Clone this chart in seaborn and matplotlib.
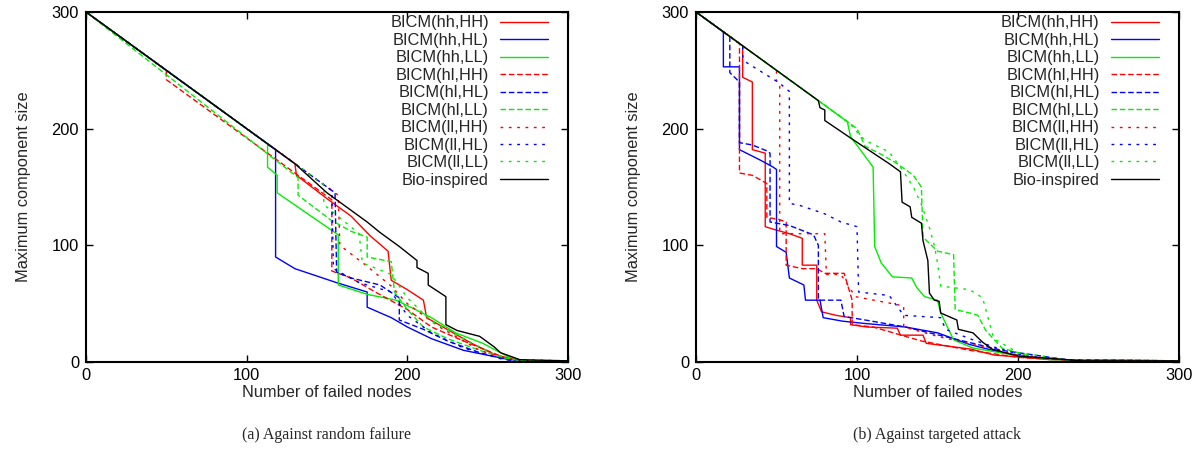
import matplotlib
matplotlib.use("Agg")
import matplotlib.pyplot as plt
import seaborn as sns
import pandas as pd

# %% Data (panel a: random failure, panel b: targeted attack)
labels = ["BICM(hh,HH)", "BICM(hh,HL)", "BICM(hh,LL)",
          "BICM(hl,HH)", "BICM(hl,HL)", "BICM(hl,LL)",
          "BICM(ll,HH)", "BICM(ll,HL)", "BICM(ll,LL)", "Bio-inspired"]

# panel a
a_hhHH_x = [0, 130, 131, 150, 165, 177, 188, 190, 200, 210, 212, 226, 240, 255, 270, 300]
a_hhHH_y = [300, 170, 160, 140, 125, 108, 95, 70, 62, 53, 38, 27, 16, 6, 1, 1]
a_hhHL_x = [0, 118, 118, 130, 156, 175, 175, 190, 200, 215, 235, 260, 270, 300]
a_hhHL_y = [300, 182, 90, 80, 68, 60, 47, 38, 30, 20, 10, 3, 1, 1]
a_hhLL_x = [0, 113, 113, 119, 119, 157, 157, 175, 193, 205, 215, 230, 247, 262, 272, 300]
a_hhLL_y = [300, 187, 167, 160, 145, 109, 66, 58, 53, 45, 38, 25, 16, 5, 1, 1]
a_hlHH_x = [0, 50, 50, 153, 153, 165, 180, 200, 215, 235, 260, 270, 300]
a_hlHH_y = [300, 250, 242, 139, 78, 72, 60, 45, 30, 18, 4, 1, 1]
a_hlHL_x = [0, 155, 156, 165, 183, 195, 195, 210, 225, 245, 265, 300]
a_hlHL_y = [300, 145, 77, 72, 66, 55, 36, 28, 18, 8, 1, 1]
a_hlLL_x = [0, 132, 132, 152, 165, 175, 175, 190, 192, 200, 210, 225, 245, 262, 272, 300]
a_hlLL_y = [300, 158, 143, 122, 112, 107, 90, 86, 60, 45, 30, 20, 10, 3, 1, 1]
a_llHH_x = [0, 157, 158, 175, 190, 200, 220, 245, 265, 300]
a_llHH_y = [300, 143, 100, 82, 65, 50, 30, 10, 1, 1]
a_llHL_x = [0, 153, 154, 170, 190, 200, 215, 235, 260, 300]
a_llHL_y = [300, 147, 80, 68, 60, 40, 25, 12, 2, 1]
a_llLL_x = [0, 148, 148, 170, 172, 190, 200, 215, 235, 255, 270, 300]
a_llLL_y = [300, 152, 135, 110, 85, 75, 55, 35, 20, 6, 1, 1]
a_bio_x = [0, 130, 150, 175, 183, 195, 206, 206, 213, 213, 224, 224, 231, 245, 254, 258, 270, 300]
a_bio_y = [300, 170, 145, 120, 111, 99, 87, 81, 76, 66, 56, 32, 27, 22, 13, 8, 2, 1]

# panel b
b_hhHH_x = [0, 29, 29, 35, 35, 43, 43, 50, 58, 66, 66, 75, 75, 78, 87, 96, 96, 106, 125, 127, 141, 143, 171, 185, 220, 300]
b_hhHH_y = [300, 271, 244, 240, 182, 179, 116, 113, 110, 106, 83, 83, 53, 43, 40, 38, 32, 30, 29, 23, 23, 16, 11, 6, 2, 1]
b_hhHL_x = [0, 17, 17, 27, 27, 40, 48, 50, 50, 56, 58, 67, 68, 77, 79, 91, 105, 130, 150, 170, 190, 210, 240, 300]
b_hhHL_y = [300, 283, 253, 253, 182, 173, 167, 165, 99, 94, 72, 66, 53, 53, 38, 35, 33, 30, 25, 15, 8, 4, 1, 1]
b_hhLL_x = [0, 94, 96, 102, 110, 111, 115, 122, 134, 137, 142, 150, 152, 160, 172, 193, 220, 300]
b_hhLL_y = [300, 206, 193, 182, 167, 99, 85, 73, 72, 64, 56, 53, 42, 19, 12, 7, 2, 1]
b_hlHH_x = [0, 27, 27, 35, 44, 44, 52, 56, 56, 66, 75, 80, 92, 97, 97, 110, 140, 170, 200, 240, 300]
b_hlHH_y = [300, 273, 162, 160, 153, 124, 122, 120, 83, 80, 80, 76, 76, 53, 32, 30, 18, 10, 4, 1, 1]
b_hlHL_x = [0, 21, 21, 27, 27, 35, 44, 46, 46, 58, 73, 76, 76, 90, 92, 105, 130, 160, 190, 230, 300]
b_hlHL_y = [300, 279, 248, 240, 188, 186, 181, 179, 120, 117, 109, 100, 53, 53, 39, 36, 30, 20, 10, 2, 1]
b_hlLL_x = [0, 100, 105, 115, 125, 135, 140, 141, 150, 160, 161, 170, 175, 180, 190, 210, 240, 300]
b_hlLL_y = [300, 200, 185, 178, 170, 160, 150, 107, 95, 92, 45, 42, 40, 27, 12, 4, 1, 1]
b_llHH_x = [0, 50, 50, 52, 52, 80, 81, 90, 99, 122, 129, 129, 150, 175, 200, 230, 300]
b_llHH_y = [300, 250, 241, 239, 110, 110, 75, 75, 56, 50, 48, 30, 22, 14, 6, 2, 1]
b_llHL_x = [0, 29, 29, 31, 45, 52, 56, 58, 58, 65, 80, 90, 100, 101, 120, 129, 152, 155, 170, 187, 205, 240, 300]
b_llHL_y = [300, 271, 262, 257, 245, 239, 234, 232, 136, 134, 127, 120, 116, 60, 57, 40, 38, 28, 20, 12, 5, 1, 1]
b_llLL_x = [0, 96, 98, 105, 120, 128, 135, 140, 145, 148, 150, 152, 170, 178, 185, 200, 230, 300]
b_llLL_y = [300, 204, 200, 190, 180, 165, 150, 135, 115, 100, 85, 65, 62, 55, 20, 8, 2, 1]
b_bio_x = [0, 76, 77, 80, 80, 96, 120, 127, 128, 133, 134, 140, 141, 144, 145, 148, 151, 152, 162, 163, 172, 178, 184, 200, 240, 300]
b_bio_y = [300, 224, 218, 216, 207, 192, 170, 163, 137, 133, 124, 119, 104, 87, 59, 53, 52, 42, 36, 28, 25, 17, 11, 5, 1, 1]

series_a = [(a_hhHH_x, a_hhHH_y), (a_hhHL_x, a_hhHL_y), (a_hhLL_x, a_hhLL_y),
            (a_hlHH_x, a_hlHH_y), (a_hlHL_x, a_hlHL_y), (a_hlLL_x, a_hlLL_y),
            (a_llHH_x, a_llHH_y), (a_llHL_x, a_llHL_y), (a_llLL_x, a_llLL_y),
            (a_bio_x, a_bio_y)]
series_b = [(b_hhHH_x, b_hhHH_y), (b_hhHL_x, b_hhHL_y), (b_hhLL_x, b_hhLL_y),
            (b_hlHH_x, b_hlHH_y), (b_hlHL_x, b_hlHL_y), (b_hlLL_x, b_hlLL_y),
            (b_llHH_x, b_llHH_y), (b_llHL_x, b_llHL_y), (b_llLL_x, b_llLL_y),
            (b_bio_x, b_bio_y)]

# %% Styling (gnuplot look)
colors = ["#ff0000", "#0000ff", "#00ee00"] * 3 + ["#000000"]
dash_styles = ["-"] * 3 + [(0, (4, 2))] * 3 + [(0, (2, 4))] * 3 + ["-"]

sns.set_style("ticks")
plt.rcParams["font.family"] = ["Liberation Sans", "DejaVu Sans"]
fs = 11.8

fig = plt.figure(figsize=(11.99, 4.51), dpi=100)
ax_a = fig.add_axes([86 / 1199, 89 / 451, 482 / 1199, 350 / 451])
ax_b = fig.add_axes([696 / 1199, 89 / 451, 483 / 1199, 350 / 451])


def draw_panel(ax, series):
    for (xs, ys), lab, c, ls in zip(series, labels, colors, dash_styles):
        df = pd.DataFrame({"x": xs, "y": ys})
        sns.lineplot(data=df, x="x", y="y", ax=ax, estimator=None, sort=False,
                     color=c, linestyle=ls, linewidth=1.0, label=lab)
    ax.set_xlim(0, 300)
    ax.set_ylim(0, 300)
    ax.set_xticks([0, 100, 200, 300])
    ax.set_yticks([0, 100, 200, 300])
    ax.tick_params(direction="in", length=5, width=1, top=True, right=True,
                   labelsize=fs, colors="black")
    ax.tick_params(axis="x", pad=4)
    ax.tick_params(axis="y", pad=5)
    for sp in ax.spines.values():
        sp.set_visible(True)
        sp.set_linewidth(1.5)
        sp.set_color("black")
    ax.set_xlabel("Number of failed nodes", fontsize=fs, labelpad=2)
    ax.set_ylabel("Maximum component size", fontsize=fs, labelpad=15)
    ax.legend(loc="upper right", bbox_to_anchor=(0.958, 0.99), frameon=False,
              markerfirst=False, fontsize=fs, handlelength=2.9,
              handletextpad=0.7, labelspacing=0.15, borderpad=0, borderaxespad=0)


draw_panel(ax_a, series_a)
draw_panel(ax_b, series_b)

fig.text(327 / 1199, 1 - 435 / 451, "(a) Against random failure", ha="center", va="center",
         family="Liberation Serif", fontsize=11.5)
fig.text(937 / 1199, 1 - 435 / 451, "(b) Against targeted attack", ha="center", va="center",
         family="Liberation Serif", fontsize=11.5)

fig.savefig("out.png", dpi=100)
